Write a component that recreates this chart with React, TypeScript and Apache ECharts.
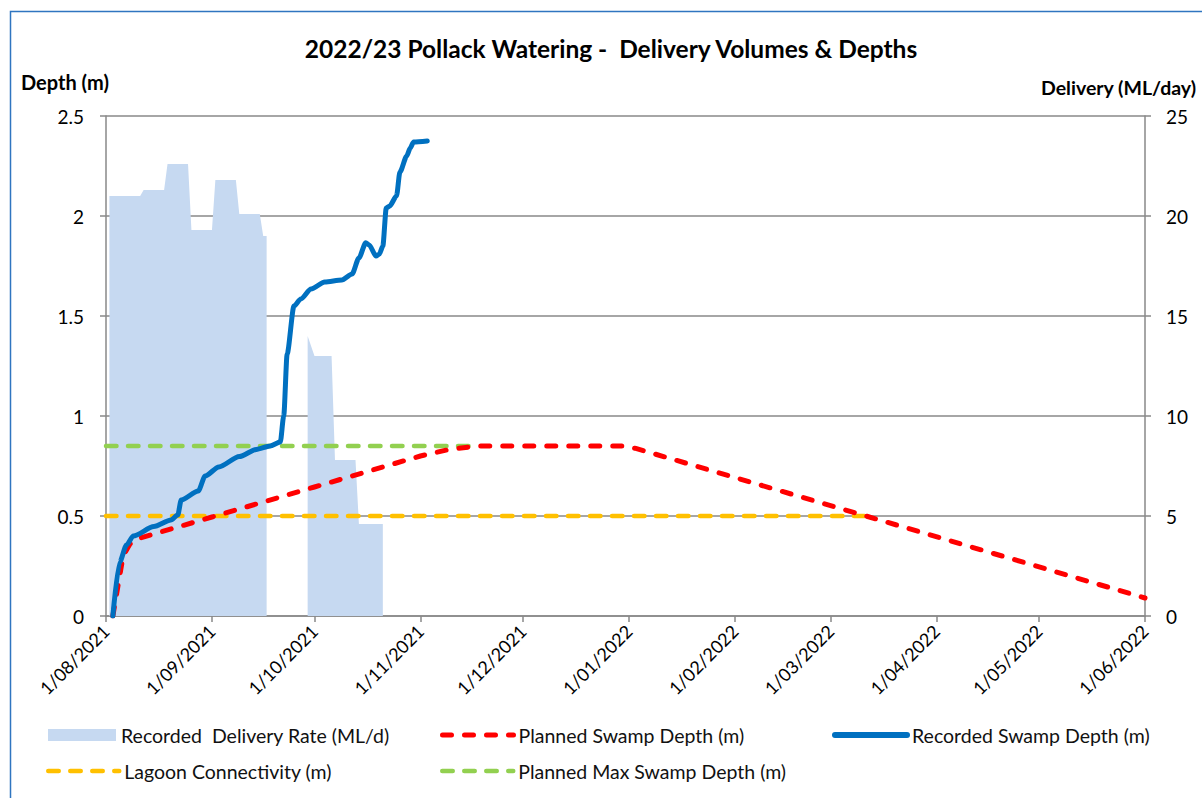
import React, { useEffect, useRef } from "react";
import * as echarts from "echarts";

// ---------- DATA ----------
const START = "2021-08-01";
const END = "2022-06-01";
const MONTH_TICKS = [
  "1/08/2021", "1/09/2021", "1/10/2021", "1/11/2021", "1/12/2021", "1/01/2022",
  "1/02/2022", "1/03/2022", "1/04/2022", "1/05/2022", "1/06/2022",
];

// Recorded Delivery Rate (ML/d) – right axis
const DELIVERY: [string, number | null][] = [
  ["2021-08-02", 21.0], ["2021-08-11", 21.0], ["2021-08-12", 21.3], ["2021-08-18", 21.3],
  ["2021-08-19", 22.6], ["2021-08-25", 22.6], ["2021-08-26", 19.3], ["2021-09-01", 19.3],
  ["2021-09-02", 21.8], ["2021-09-08", 21.8], ["2021-09-09", 20.1], ["2021-09-15", 20.1],
  ["2021-09-16", 19.0], ["2021-09-17", 19.0],
  ["2021-09-22", null],
  ["2021-09-29", 14.0], ["2021-10-01", 13.0], ["2021-10-06", 13.0], ["2021-10-07", 7.8],
  ["2021-10-13", 7.8], ["2021-10-14", 4.6], ["2021-10-21", 4.6],
];

// Recorded Swamp Depth (m)
const RECORDED_DEPTH: [string, number][] = [
  ["2021-08-03", 0], ["2021-08-05", 0.27], ["2021-08-07", 0.355], ["2021-08-09", 0.40],
  ["2021-08-15", 0.447], ["2021-08-20", 0.48], ["2021-08-22", 0.505], ["2021-08-23", 0.58],
  ["2021-08-28", 0.625], ["2021-08-30", 0.70], ["2021-09-03", 0.745], ["2021-09-09", 0.797],
  ["2021-09-14", 0.833], ["2021-09-18", 0.85], ["2021-09-21", 0.87], ["2021-09-22", 1.0],
  ["2021-09-23", 1.31], ["2021-09-25", 1.55], ["2021-09-27", 1.585], ["2021-09-30", 1.635],
  ["2021-10-04", 1.67], ["2021-10-09", 1.68], ["2021-10-12", 1.71], ["2021-10-14", 1.79],
  ["2021-10-16", 1.866], ["2021-10-17", 1.855], ["2021-10-19", 1.80], ["2021-10-20", 1.81],
  ["2021-10-21", 1.85], ["2021-10-22", 2.04], ["2021-10-23", 2.05], ["2021-10-25", 2.10],
  ["2021-10-26", 2.22], ["2021-10-28", 2.30], ["2021-10-29", 2.34], ["2021-10-30", 2.37],
  ["2021-11-03", 2.375],
];

// Planned Swamp Depth (m)
const PLANNED_DEPTH: [string, number][] = [
  ["2021-08-03", 0], ["2021-08-06", 0.3], ["2021-08-08", 0.36], ["2021-08-10", 0.385],
  ["2021-09-01", 0.495], ["2021-10-01", 0.645], ["2021-11-01", 0.80], ["2021-11-10", 0.835],
  ["2021-11-18", 0.85], ["2021-12-30", 0.85], ["2022-01-03", 0.838], ["2022-06-01", 0.09],
];

// Lagoon Connectivity (m)
const LAGOON: [string, number][] = [["2021-08-01", 0.5], ["2022-03-11", 0.5]];

// Planned Max Swamp Depth (m)
const PLANNED_MAX: [string, number][] = [["2021-08-01", 0.85], ["2021-11-18", 0.85]];

const TITLE = "2022/23 Pollack Watering -  Delivery Volumes & Depths";
const NAMES = {
  delivery: "Recorded  Delivery Rate (ML/d)",
  planned: "Planned Swamp Depth (m)",
  recorded: "Recorded Swamp Depth (m)",
  lagoon: "Lagoon Connectivity (m)",
  plannedMax: "Planned Max Swamp Depth (m)",
};

// ---------- helpers ----------
const DAY = 86400000;
function utc(s: string) {
  const [y, m, d] = s.split("-").map(Number);
  return Date.UTC(y, m - 1, d);
}
const T0 = utc(START);
const N_DAYS = Math.round((utc(END) - T0) / DAY);
function idx(s: string) {
  return Math.round((utc(s) - T0) / DAY);
}
const CATEGORIES: string[] = [];
for (let i = 0; i <= N_DAYS; i++) {
  const dt = new Date(T0 + i * DAY);
  const d = dt.getUTCDate();
  const m = String(dt.getUTCMonth() + 1).padStart(2, "0");
  CATEGORIES.push(`${d}/${m}/${dt.getUTCFullYear()}`);
}
const tickSet = new Set(MONTH_TICKS);
const showTick = (_i: number, v: string) => tickSet.has(v);
const toPairs = (arr: [string, number | null][]) => arr.map(([d, v]) => [idx(d), v]);

const FONT = "Lato";
const GRAY = "#898989";

export default function App() {
  const ref = useRef<HTMLDivElement>(null);
  useEffect(() => {
    if (!ref.current) return;
    const chart = echarts.init(ref.current, undefined, { renderer: "svg" });
    const legendBase = {
      padding: 0,
      selectedMode: false,
      itemHeight: 12,
      itemStyle: { opacity: 0 },
      textStyle: { fontFamily: FONT, fontSize: 19.5, color: "#111", lineHeight: 22 },
    };
    const option: any = {
      animation: false,
      backgroundColor: "#ffffff",
      textStyle: { fontFamily: FONT },
      grid: { left: 106, right: 57, top: 116, bottom: 182, containLabel: false },
      xAxis: {
        type: "category",
        data: CATEGORIES,
        boundaryGap: false,
        axisLine: { lineStyle: { color: GRAY, width: 1.5 } },
        axisTick: { interval: showTick, length: 6, lineStyle: { color: GRAY, width: 1.5 } },
        axisLabel: { interval: showTick, rotate: 45, fontSize: 18, color: "#000", margin: 12, fontFamily: FONT },
        splitLine: { show: false },
      },
      yAxis: [
        {
          type: "value", min: 0, max: 2.5, interval: 0.5, position: "left",
          axisLine: { show: true, lineStyle: { color: GRAY, width: 1.5 } },
          axisTick: { show: true, length: 6, lineStyle: { color: GRAY, width: 1.5 } },
          axisLabel: { fontSize: 19, color: "#000", margin: 22, fontFamily: FONT },
          splitLine: { show: true, lineStyle: { color: GRAY, width: 1.5 } },
        },
        {
          type: "value", min: 0, max: 25, interval: 5, position: "right",
          axisLine: { show: true, lineStyle: { color: GRAY, width: 1.5 } },
          axisTick: { show: true, length: 6, lineStyle: { color: GRAY, width: 1.5 } },
          axisLabel: { fontSize: 19, color: "#000", margin: 21, fontFamily: FONT },
          splitLine: { show: false },
        },
      ],
      legend: [
        {
          ...legendBase, left: 48, top: 724, itemWidth: 68, itemStyle: {},
          data: [{ name: NAMES.delivery, icon: "rect" }],
        },
        { ...legendBase, left: 440, top: 724, itemWidth: 71, lineStyle: { width: 5 }, data: [NAMES.planned] },
        { ...legendBase, left: 832, top: 724, itemWidth: 72, lineStyle: { width: 6 }, data: [NAMES.recorded] },
        { ...legendBase, left: 46, top: 760, itemWidth: 71, lineStyle: { width: 4.5 }, data: [NAMES.lagoon] },
        { ...legendBase, left: 440, top: 760, itemWidth: 71, lineStyle: { width: 4.5 }, data: [NAMES.plannedMax] },
      ],
      graphic: [
        {
          type: "polyline",
          shape: { points: [[10.5, 798], [10.5, 11.5], [1202, 11.5]] },
          style: { stroke: "#2f75c0", lineWidth: 1.5, fill: null },
          silent: true,
        },
        {
          type: "text", x: 611, y: 48,
          style: { text: TITLE, font: `bold 24.5px ${FONT}`, fill: "#000", textAlign: "center", textVerticalAlign: "middle" },
        },
        {
          type: "text", x: 21, y: 82,
          style: { text: "Depth (m)", font: `bold 20px ${FONT}`, fill: "#000", textAlign: "left", textVerticalAlign: "middle" },
        },
        {
          type: "text", x: 1041, y: 87,
          style: { text: "Delivery (ML/day)", font: `bold 19.5px ${FONT}`, fill: "#000", textAlign: "left", textVerticalAlign: "middle" },
        },
      ],
      series: [
        {
          name: NAMES.delivery, type: "line", yAxisIndex: 1, data: toPairs(DELIVERY),
          symbol: "none", connectNulls: false, color: "#c6d9f1",
          itemStyle: { color: "#c6d9f1" },
          lineStyle: { width: 0, color: "#c6d9f1" },
          areaStyle: { color: "#c6d9f1", opacity: 1 }, z: 1,
        },
        {
          name: NAMES.lagoon, type: "line", yAxisIndex: 0, data: toPairs(LAGOON), symbol: "none",
          color: "#ffc000",
          lineStyle: { color: "#ffc000", width: 4.5, type: [10.5, 11.5], cap: "round" }, z: 2,
        },
        {
          name: NAMES.plannedMax, type: "line", yAxisIndex: 0, data: toPairs(PLANNED_MAX), symbol: "none",
          color: "#92d050",
          lineStyle: { color: "#92d050", width: 4.5, type: [10.5, 11.5], cap: "round" }, z: 3,
        },
        {
          name: NAMES.planned, type: "line", yAxisIndex: 0, data: toPairs(PLANNED_DEPTH), symbol: "none",
          color: "#ff0000", smooth: false,
          lineStyle: { color: "#ff0000", width: 5, type: [9, 13], cap: "round", join: "round" }, z: 4,
        },
        {
          name: NAMES.recorded, type: "line", yAxisIndex: 0, data: toPairs(RECORDED_DEPTH), symbol: "none",
          color: "#0070c0", smooth: 0.25, smoothMonotone: "x",
          lineStyle: { color: "#0070c0", width: 5, cap: "round", join: "round" }, z: 5,
        },
      ],
    };
    chart.setOption(option);
    return () => chart.dispose();
  }, []);
  return (
    <div
      ref={ref}
      style={{ position: "fixed", left: 0, top: 0, width: 1202, height: 798, background: "#fff" }}
    />
  );
}
